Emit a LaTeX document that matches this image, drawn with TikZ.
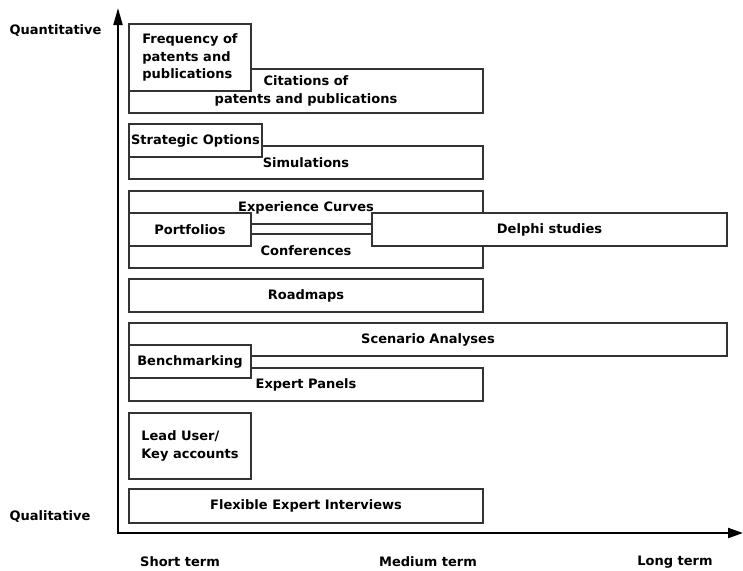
\documentclass[tikz,border=0pt]{standalone}
\usepackage{fontspec}
\setmainfont{DejaVu Sans}
\usetikzlibrary{arrows.meta}

\begin{document}
\begin{tikzpicture}[x=1pt,y=-1pt,
            font=\fontsize{13}{17.5}\selectfont\bfseries,
            box/.style = {draw=black!80,line width=1.1pt,fill=white,
                align=center,inner sep=0pt},
            wide/.style = {box,minimum width=354pt,minimum height=33pt},
            small/.style = {box,minimum width=122pt,minimum height=33pt},
            axis/.style = {line width=2pt,
                {Triangle[length=17pt,width=9pt]}-{Triangle[length=15pt,width=10pt]}}]
            \useasboundingbox (0,0) rectangle (743,570);
            % axes
            \coordinate (ytip) at (118,8);
            \coordinate (xtip) at (743,533);
            \draw[axis] (ytip) |- (xtip);
            \node[anchor=west] (quant) at (6,31) {Quantitative};
            \node[anchor=west] (qual) at (6,517) {Qualitative};
            \node (short) at (180,562) {Short term};
            \node (medium) at (428,562) {Medium term};
            \node (long) at (675,562) {Long term};
            % methods, back to front
            \node[wide,minimum height=44pt] (citations) at (306,91)
                {Citations of\\patents and publications};
            \node[small,minimum height=67pt,align=left] (frequency) at (190,57.5)
                {Frequency of\\patents and\\publications};
            \node[wide] (simulations) at (306,162.5) {Simulations};
            \node[small,minimum width=133pt] (options) at (195.5,140.5)
                {Strategic Options};
            \node[wide] (curves) at (306,207.5) {Experience Curves};
            \node[wide,minimum height=34pt] (conferences) at (306,251)
                {Conferences};
            \node[small] (portfolios) at (190,229.5) {Portfolios};
            \node[wide,minimum width=355pt] (delphi) at (549.5,229.5)
                {Delphi studies};
            \node[wide] (roadmaps) at (306,295.5) {Roadmaps};
            \node[wide,minimum width=598pt] (scenario) at (428,339.5)
                {Scenario Analyses};
            \node[wide] (panels) at (306,384.5) {Expert Panels};
            \node[small] (benchmarking) at (190,361.5) {Benchmarking};
            \node[small,minimum height=66pt,align=left] (leaduser) at (190,446)
                {Lead User/\\Key accounts};
            \node[wide,minimum height=34pt] (interviews) at (306,506)
                {Flexible Expert Interviews};
\end{tikzpicture}
\end{document}
